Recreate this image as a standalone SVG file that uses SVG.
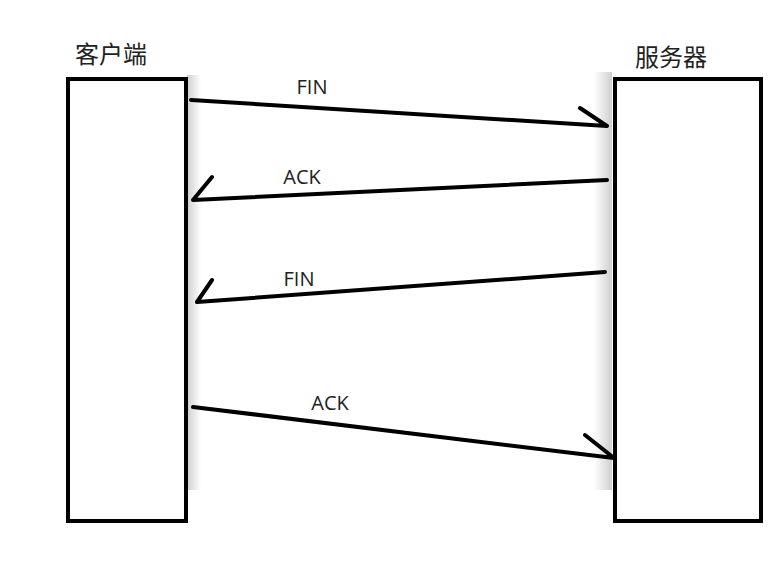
<svg xmlns="http://www.w3.org/2000/svg" width="783" height="574" viewBox="0 0 783 574">
<style>
.box{fill:#fff;stroke:#000;stroke-width:4}
.conn{fill:none;stroke:#000;stroke-width:4;stroke-linecap:round;stroke-linejoin:round}
.lbl{font-family:"Open Sans","Liberation Sans",sans-serif;font-size:20px;fill:#222;text-anchor:middle}
.title{font-family:"Noto Sans CJK SC","Noto Sans",sans-serif;font-size:24px;fill:#222;text-anchor:middle}
</style>
<defs>
<linearGradient id="gl" x1="0" x2="1" y1="0" y2="0">
<stop offset="0" stop-color="#cfcfcf"/>
<stop offset="1" stop-color="#fff"/>
</linearGradient>
<linearGradient id="gr" x1="0" x2="1" y1="0" y2="0">
<stop offset="0" stop-color="#fff"/>
<stop offset="1" stop-color="#cfcfcf"/>
</linearGradient>
</defs>
<rect width="783" height="574" fill="#fff"/>
<rect x="187" y="75" width="14" height="415" fill="url(#gl)"/>
<rect x="594" y="72" width="18" height="418" fill="url(#gr)"/>
<g id="client">
<rect class="box" x="68" y="79" width="118" height="442"/>
<text class="title" x="111" y="63">客户端</text>
</g>
<g id="server">
<rect class="box" x="615" y="79" width="146" height="442"/>
<text class="title" x="671" y="66">服务器</text>
</g>
<g id="connectors">
<path class="conn" d="M191 100 L607 126 M580 108 L607 126"/>
<path class="conn" d="M607 180 L193 200 L212 177"/>
<path class="conn" d="M605 272 L197 302 L212 280"/>
<path class="conn" d="M193 407 L614 458 M585 435 L614 458"/>
<text class="lbl" x="312" y="94">FIN</text>
<text class="lbl" x="302" y="184">ACK</text>
<text class="lbl" x="299" y="286">FIN</text>
<text class="lbl" x="330" y="410">ACK</text>
</g>
</svg>
